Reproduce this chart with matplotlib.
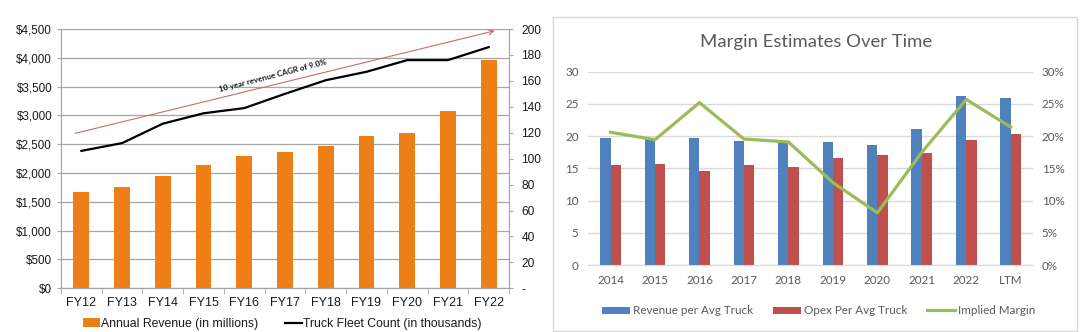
import matplotlib
matplotlib.use("Agg")
import matplotlib.pyplot as plt
from matplotlib.patches import Patch, Rectangle
from matplotlib.lines import Line2D
from matplotlib.ticker import FuncFormatter, MultipleLocator, FixedLocator

# ---------------- data ----------------
fiscal_years = ["FY12", "FY13", "FY14", "FY15", "FY16", "FY17",
                "FY18", "FY19", "FY20", "FY21", "FY22"]
annual_revenue = [1680, 1760, 1950, 2140, 2290, 2360, 2470, 2650, 2690, 3080, 3960]
fleet_count = [106, 112, 127, 135, 139, 150, 160.5, 167, 176, 176, 186]
cagr_label = "10 year revenue CAGR of 9.0%"

margin_years = ["2014", "2015", "2016", "2017", "2018", "2019",
                "2020", "2021", "2022", "LTM"]
revenue_per_truck = [19.7, 19.5, 19.7, 19.25, 18.9, 19.1, 18.6, 21.05, 26.2, 25.9]
opex_per_truck = [15.55, 15.65, 14.65, 15.55, 15.25, 16.65, 17.05, 17.4, 19.45, 20.3]
implied_margin = [20.6, 19.45, 25.2, 19.55, 19.1, 12.8, 8.1, 17.5, 25.7, 21.4]

# ---------------- figure ----------------
fig = plt.figure(figsize=(10.82, 3.32), dpi=100)
fig.patch.set_facecolor("white")

# ======== left: revenue and fleet ========
arial = "Liberation Sans"
ax1 = fig.add_axes([0.0564, 0.1316, 0.414, 0.781])
x1 = list(range(len(fiscal_years)))
ax1.bar(x1, annual_revenue, width=0.39, color="#EE7F17", zorder=2)
ax1.set_xlim(-0.5, len(fiscal_years) - 0.5)
ax1.set_ylim(0, 4500)
ax1.yaxis.set_major_locator(MultipleLocator(500))
ax1.yaxis.set_major_formatter(FuncFormatter(lambda v, p: f"${v:,.0f}"))
ax1.grid(axis="y", color="#A6A6A6", lw=0.9, zorder=0)
ax1.set_axisbelow(True)
ax1.set_xticks(x1)
ax1.set_xticklabels(fiscal_years, fontsize=9, family=arial, color="#1a1a1a")
ax1.xaxis.set_minor_locator(FixedLocator([i - 0.5 for i in range(len(fiscal_years) + 1)]))
ax1.tick_params(axis="x", which="major", length=0, pad=6)
ax1.tick_params(axis="x", which="minor", length=4, color="#A6A6A6", direction="out")
ax1.tick_params(axis="y", length=3, color="#A6A6A6", pad=3.5, labelsize=8.4)
for lab in ax1.get_yticklabels():
    lab.set_family(arial)
    lab.set_color("#1a1a1a")
for side in ("left", "right", "bottom"):
    ax1.spines[side].set_color("#A6A6A6")
ax1.spines["top"].set_visible(False)

ax1b = ax1.twinx()
ax1b.plot(x1, fleet_count, color="black", lw=1.6, zorder=3)
ax1b.set_ylim(0, 200)
ax1b.yaxis.set_major_locator(MultipleLocator(20))
ax1b.yaxis.set_major_formatter(FuncFormatter(lambda v, p: "-" if v == 0 else f"{v:.0f}"))
ax1b.tick_params(axis="y", length=3, color="#A6A6A6", pad=6, labelsize=8.6)
for lab in ax1b.get_yticklabels():
    lab.set_family(arial)
    lab.set_color("#1a1a1a")
for side in ("left", "right", "bottom"):
    ax1b.spines[side].set_color("#A6A6A6")
ax1b.spines["top"].set_visible(False)

# growth trend arrow with CAGR note
ax1.annotate("", xy=(10.15, 4470), xytext=(-0.15, 2690),
             arrowprops=dict(arrowstyle="->", color="#D06B68", lw=0.8,
                             mutation_scale=9, shrinkA=0, shrinkB=0),
             zorder=4)
ax1.text(4.69, 3684, cagr_label, rotation=14.5, rotation_mode="anchor",
         ha="center", va="center", fontsize=5.8, fontweight="bold",
         family="Lato", color="#1a1a1a", zorder=4)

leg1 = fig.legend(
    handles=[Patch(facecolor="#EE7F17", edgecolor="none"),
             Line2D([], [], color="black", lw=1.6)],
    labels=["Annual Revenue (in millions)", "Truck Fleet Count (in thousands)"],
    loc="center", bbox_to_anchor=(0.261, 0.024), ncol=2, frameon=False,
    handlelength=1.35, handletextpad=0.1, columnspacing=2.2,
    prop=dict(family=arial, size=8.8))
for t in leg1.get_texts():
    t.set_color("#1a1a1a")

# ======== right: margin estimates ========
calibri_like = "Lato"
fig.patches.append(Rectangle((553 / 1082, 0.003), (1077 - 553) / 1082, 1 - 17 / 332 - 0.003,
                             transform=fig.transFigure, facecolor="none",
                             edgecolor="#D9D9D9", lw=1.0, zorder=-10))
fig.text(0.754, 0.874, "Margin Estimates Over Time", ha="center", va="center",
         fontsize=13.3, family=calibri_like, color="#595959")

ax2 = fig.add_axes([0.5437, 0.2018, 0.411, 0.5822])
ax2.patch.set_alpha(0)
x2 = list(range(len(margin_years)))
bw = 0.232
ax2.bar([i - bw / 2 for i in x2], revenue_per_truck, width=bw, color="#4F81BD", zorder=2)
ax2.bar([i + bw / 2 for i in x2], opex_per_truck, width=bw, color="#C0504D", zorder=2)
ax2.set_xlim(-0.5, len(margin_years) - 0.5)
ax2.set_ylim(0, 30)
ax2.yaxis.set_major_locator(MultipleLocator(5))
ax2.grid(axis="y", color="#D9D9D9", lw=1.0, zorder=0)
ax2.set_axisbelow(True)
ax2.set_xticks(x2)
ax2.set_xticklabels(margin_years)
ax2.tick_params(axis="both", length=0, labelsize=8.4, labelcolor="#595959")
ax2.tick_params(axis="y", pad=7)
ax2.tick_params(axis="x", pad=7)
for lab in ax2.get_xticklabels() + ax2.get_yticklabels():
    lab.set_family(calibri_like)
for side in ("left", "right", "top"):
    ax2.spines[side].set_visible(False)
ax2.spines["bottom"].set_color("#D9D9D9")

ax2b = ax2.twinx()
ax2b.plot(x2, implied_margin, color="#9BBB59", lw=2.3, zorder=3)
ax2b.set_ylim(0, 30)
ax2b.yaxis.set_major_locator(MultipleLocator(5))
ax2b.yaxis.set_major_formatter(FuncFormatter(lambda v, p: f"{v:.0f}%"))
ax2b.tick_params(axis="y", length=0, labelsize=8.4, labelcolor="#595959", pad=6.3)
for lab in ax2b.get_yticklabels():
    lab.set_family(calibri_like)
for side in ("left", "right", "top", "bottom"):
    ax2b.spines[side].set_visible(False)

leg2 = fig.legend(
    handles=[Patch(facecolor="#4F81BD", edgecolor="none"),
             Patch(facecolor="#C0504D", edgecolor="none"),
             Line2D([], [], color="#9BBB59", lw=2.3)],
    labels=["Revenue per Avg Truck", "Opex Per Avg Truck", "Implied Margin"],
    loc="center", bbox_to_anchor=(0.7565, 0.064), ncol=3, frameon=False,
    handlelength=2.4, handleheight=0.55, handletextpad=0.25, columnspacing=1.7,
    prop=dict(family=calibri_like, size=8.4))
for t in leg2.get_texts():
    t.set_color("#595959")

fig.savefig("out.png", dpi=100, facecolor="white")
